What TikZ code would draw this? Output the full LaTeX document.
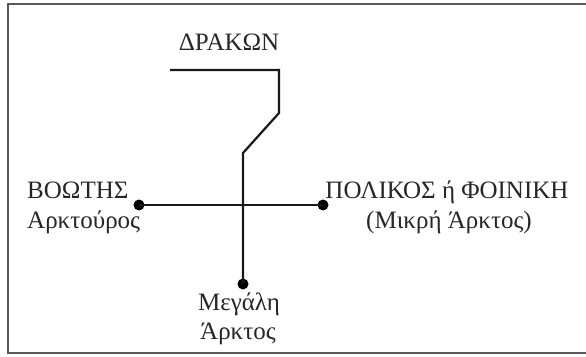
\documentclass[tikz,border=0pt]{standalone}
\usepackage{fontspec}
\setmainfont{Liberation Serif}
\begin{document}
\begin{tikzpicture}[x=1pt,y=-1pt,
  lbl/.style={font=\fontsize{25}{30}\selectfont, inner sep=0pt, align=center, text=black!85},
  wire/.style={line width=2.2pt, black!90, line join=miter},
  dotpt/.style={circle, fill=black, inner sep=0pt, minimum size=11pt}]
\useasboundingbox (0,0) rectangle (586,356);
\clip (0,0) rectangle (586,356);
\draw[line width=2pt, black!65] (8,4) rectangle (620,353);
% nodes
\node[dotpt] (boo) at (139,205) {};
\node[dotpt] (pol) at (323,205) {};
\node[dotpt] (meg) at (243,284) {};
\coordinate (drs) at (170,70);
\coordinate (dr1) at (279,70);
\coordinate (dr2) at (279,113);
\coordinate (dr3) at (243,153);
% wires
\draw[wire] (drs) -- (dr1) -- (dr2) -- (dr3) -- (meg.center);
\draw[wire] (boo.center) -- (pol.center);
% labels
\node[lbl, anchor=base] (tdr) at (229,50) {ΔΡΑΚΩΝ};
\node[lbl, anchor=base west] (tboo1) at (27,198) {ΒΟΩΤΗΣ};
\node[lbl, anchor=base west] (tboo2) at (27,228) {Αρκτούρος};
\node[lbl, anchor=base] (tpol1) at (447,198) {ΠΟΛΙΚΟΣ ή ΦΟΙΝΙΚΗ};
\node[lbl, anchor=base] (tpol2) at (449,228) {(Μικρή Άρκτος)};
\node[lbl, anchor=base] (tmeg1) at (239,310) {Μεγάλη};
\node[lbl, anchor=base] (tmeg2) at (238,339) {Άρκτος};
\end{tikzpicture}
\end{document}
